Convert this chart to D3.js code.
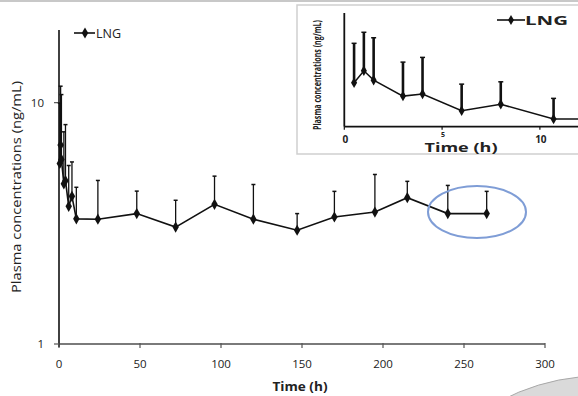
<!DOCTYPE html>
<html lang="en">
<head>
  <meta charset="UTF-8">
  <title>LNG plasma concentrations</title>
  <script src="https://d3js.org/d3.v7.min.js"></script>
  <style>
    body {
      margin: 0;
      background: #fff;
      font-family: "Open Sans", "DejaVu Sans", sans-serif;
    }
    svg text { fill: #222; }
  </style>
</head>
<body>
  <div id="chart"></div>

  <script>
    // sampling times (h), mean LNG and top of error bar (ng/mL)
    const times = [0.5, 1, 1.5, 3, 4, 6, 8, 10.7, 24, 48, 72, 96, 120, 147, 170, 195, 215, 240, 264];
    const means = [5.6, 6.67, 5.82, 4.61, 4.75, 3.72, 4.09, 3.3, 3.29, 3.47, 3.05, 3.79, 3.29, 2.96, 3.36, 3.52, 4.04, 3.47, 3.47];
    const upper = [9.96, 11.7, 10.8, 7.57, 8.11, 5.49, 5.68, 4.46, 4.76, 4.30, 3.94, 4.96, 4.58, 3.47, 4.29, 5.04, 4.72, 4.54, 4.29];

    const xTicks = [0, 50, 100, 150, 200, 250, 300];
    const yTicks = [1, 10];
    const insetTicks = [0, 5, 10];
    const seriesName = "LNG";

    const data = times.map((t, i) => ({ t: t, v: means[i], hi: upper[i] }));

    const width = 578, height = 396;
    const svg = d3.select("#chart").append("svg")
      .attr("width", width)
      .attr("height", height);

    // page frame line at top
    svg.append("line")
      .attr("x1", 0).attr("x2", width).attr("y1", 1).attr("y2", 1)
      .attr("stroke", "#c8c8c8").attr("stroke-width", 2);

    // ---- main chart ----
    const x = d3.scaleLinear().domain([0, 300]).range([59, 545]);
    const y = d3.scaleLog().domain([1, 20]).range([344, 30]);

    svg.append("line")
      .attr("x1", x(0)).attr("x2", x(300)).attr("y1", y(1)).attr("y2", y(1))
      .attr("stroke", "#7a7a7a").attr("stroke-width", 2);
    svg.append("line")
      .attr("x1", x(0)).attr("x2", x(0)).attr("y1", y(1) + 3).attr("y2", y(20))
      .attr("stroke", "#111").attr("stroke-width", 1.6);

    svg.selectAll(".xtick").data(xTicks).enter().append("line")
      .attr("x1", d => x(d)).attr("x2", d => x(d))
      .attr("y1", y(1) - 1).attr("y2", y(1) + 4)
      .attr("stroke", "#555").attr("stroke-width", 1.2);
    svg.selectAll(".xlab").data(xTicks).enter().append("text")
      .attr("x", d => x(d)).attr("y", y(1) + 24)
      .attr("text-anchor", "middle")
      .attr("font-size", 11.5)
      .text(d => d);

    svg.selectAll(".ytick").data(yTicks).enter().append("line")
      .attr("x1", x(0) - 5).attr("x2", x(0))
      .attr("y1", d => y(d)).attr("y2", d => y(d))
      .attr("stroke", "#555").attr("stroke-width", 1.2);
    svg.selectAll(".ylab").data(yTicks).enter().append("text")
      .attr("x", x(0) - 15).attr("y", d => y(d) + 4)
      .attr("text-anchor", "end")
      .attr("font-size", 11.5)
      .text(d => d);

    svg.append("text")
      .attr("transform", "translate(21,187) rotate(-90)")
      .attr("text-anchor", "middle")
      .attr("font-size", 13)
      .attr("textLength", 212).attr("lengthAdjust", "spacingAndGlyphs")
      .text("Plasma concentrations (ng/mL)");

    svg.append("text")
      .attr("x", 300).attr("y", 391)
      .attr("text-anchor", "middle")
      .attr("font-size", 12.5)
      .attr("font-weight", "bold")
      .attr("textLength", 55).attr("lengthAdjust", "spacingAndGlyphs")
      .text("Time (h)");

    const diamond = d3.symbol().type(d3.symbolDiamond).size(36);

    function drawSeries(g, xs, ys, barW, capW, lineW, markSize) {
      g.selectAll(".bar").data(data).enter().append("line")
        .attr("x1", d => xs(d.t)).attr("x2", d => xs(d.t))
        .attr("y1", d => ys(d.v)).attr("y2", d => ys(d.hi))
        .attr("stroke", "#111").attr("stroke-width", barW);
      g.selectAll(".cap").data(data).enter().append("line")
        .attr("x1", d => xs(d.t) - capW / 2).attr("x2", d => xs(d.t) + capW / 2)
        .attr("y1", d => ys(d.hi)).attr("y2", d => ys(d.hi))
        .attr("stroke", "#111").attr("stroke-width", 1.5);
      g.append("path")
        .datum(data)
        .attr("fill", "none")
        .attr("stroke", "#111")
        .attr("stroke-width", lineW)
        .attr("d", d3.line().x(d => xs(d.t)).y(d => ys(d.v)));
      g.selectAll(".pt").data(data).enter().append("path")
        .attr("transform", d => `translate(${xs(d.t)},${ys(d.v)})`)
        .attr("d", d3.symbol().type(d3.symbolDiamond).size(markSize)())
        .attr("fill", "#111");
    }

    drawSeries(svg.append("g"), x, y, 1.3, 4, 1.6, 36);

    // legend
    svg.append("line")
      .attr("x1", 74).attr("x2", 95).attr("y1", 33).attr("y2", 33)
      .attr("stroke", "#111").attr("stroke-width", 1.6);
    svg.append("path")
      .attr("transform", "translate(85,33)")
      .attr("d", diamond())
      .attr("fill", "#111");
    svg.append("text")
      .attr("x", 96).attr("y", 38)
      .attr("font-size", 12.5)
      .text(seriesName);

    // highlight ellipse
    svg.append("ellipse")
      .attr("cx", 477).attr("cy", 212).attr("rx", 49).attr("ry", 26)
      .attr("fill", "none").attr("stroke", "#7f9dd6").attr("stroke-width", 2);

    // ---- inset ----
    const inset = svg.append("g");
    inset.append("rect")
      .attr("x", 297).attr("y", 5).attr("width", 300).attr("height", 149)
      .attr("fill", "#fff").attr("stroke", "#cfcfcf").attr("stroke-width", 1.5);

    svg.append("clipPath").attr("id", "insetClip")
      .append("rect").attr("x", 300).attr("y", 6).attr("width", 278).attr("height", 146);

    const ix = d3.scaleLinear().domain([0, 12]).range([344.3, 579]);
    const iy = d3.scaleLog().domain([2.95, 15.5]).range([126.7, 13]);

    inset.append("line")
      .attr("x1", ix(0)).attr("x2", 578).attr("y1", iy(2.95)).attr("y2", iy(2.95))
      .attr("stroke", "#111").attr("stroke-width", 1.8);
    inset.append("line")
      .attr("x1", ix(0)).attr("x2", ix(0)).attr("y1", iy(2.95)).attr("y2", iy(15.5))
      .attr("stroke", "#111").attr("stroke-width", 1.8);
    inset.selectAll(".itick").data(insetTicks).enter().append("line")
      .attr("x1", d => ix(d)).attr("x2", d => ix(d))
      .attr("y1", iy(2.95)).attr("y2", iy(2.95) + 3)
      .attr("stroke", "#111").attr("stroke-width", 1.2);
    inset.selectAll(".ilab").data(insetTicks).enter().append("text")
      .attr("x", d => ix(d) + 1).attr("y", d => d === 5 ? 137 : 143)
      .attr("text-anchor", "middle")
      .attr("font-size", d => d === 5 ? 7 : 10)
      .attr("font-weight", "bold")
      .text(d => d);
    inset.append("text")
      .attr("x", 461).attr("y", 152)
      .attr("text-anchor", "middle")
      .attr("font-size", 13)
      .attr("font-weight", "bold")
      .attr("textLength", 73).attr("lengthAdjust", "spacingAndGlyphs")
      .text("Time (h)");
    inset.append("text")
      .attr("transform", "translate(321,75) rotate(-90)")
      .attr("text-anchor", "middle")
      .attr("font-size", 10)
      .attr("font-weight", "bold")
      .attr("textLength", 110).attr("lengthAdjust", "spacingAndGlyphs")
      .text("Plasma concentrations (ng/mL)");

    drawSeries(inset.append("g").attr("clip-path", "url(#insetClip)"), ix, iy, 2.6, 5, 1.5, 32);

    inset.append("line")
      .attr("x1", 497).attr("x2", 525).attr("y1", 20).attr("y2", 20)
      .attr("stroke", "#111").attr("stroke-width", 1.6);
    inset.append("path")
      .attr("transform", "translate(511,20)")
      .attr("d", d3.symbol().type(d3.symbolDiamond).size(30)())
      .attr("fill", "#111");
    inset.append("text")
      .attr("x", 525).attr("y", 25)
      .attr("font-size", 13)
      .attr("font-weight", "bold")
      .attr("textLength", 43).attr("lengthAdjust", "spacingAndGlyphs")
      .text(seriesName);

    // grey shape in the lower right corner
    svg.append("circle")
      .attr("cx", 600).attr("cy", 588).attr("r", 212)
      .attr("fill", "#dadada").attr("stroke", "#a8a8a8").attr("stroke-width", 1);
  </script>
</body>
</html>
